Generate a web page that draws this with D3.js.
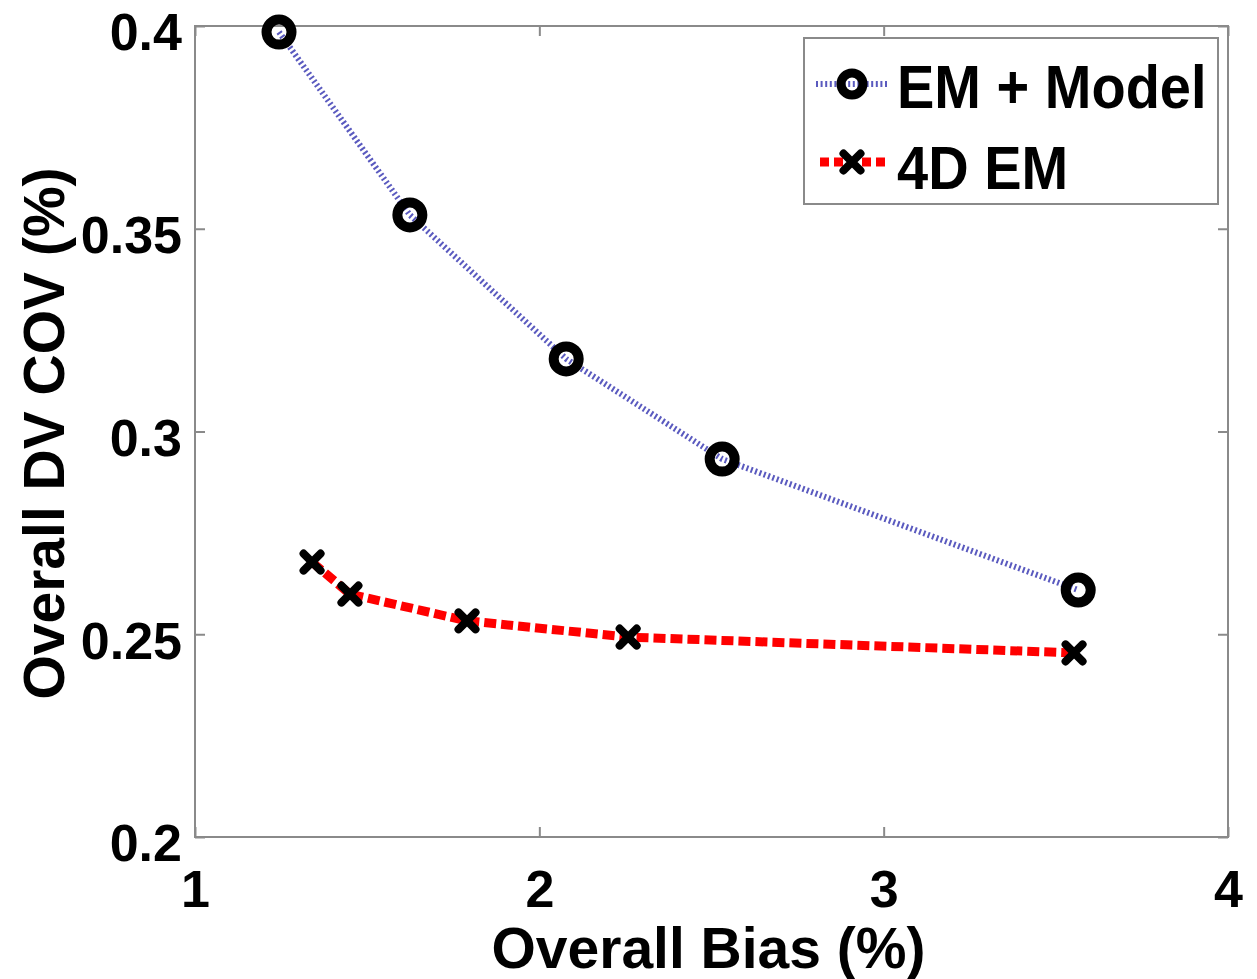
<!DOCTYPE html>
<html>
<head>
<meta charset="utf-8">
<script src="https://cdn.jsdelivr.net/npm/d3@7"></script>
<style>
  html, body { margin: 0; padding: 0; background: #fff; }
  svg { display: block; }
  text { font-family: "Liberation Sans", Arial, sans-serif; font-weight: bold; fill: #000; }
</style>
</head>
<body>
<svg id="chart" width="1257" height="979"></svg>
<script>
// Series: overall bias (%) vs overall DV COV (%)
const emModelBias = [1.244, 1.624, 2.078, 2.531, 3.565];
const emModelCov  = [0.3985, 0.3534, 0.3179, 0.2932, 0.2609];
const em4dBias    = [1.340, 1.450, 1.790, 2.258, 3.553];
const em4dCov     = [0.2678, 0.2599, 0.2533, 0.2493, 0.2454];

const xTicks = [1, 2, 3, 4];
const yTicks = [0.2, 0.25, 0.3, 0.35, 0.4];
const xTickLabels = ["1", "2", "3", "4"];
const yTickLabels = ["0.2", "0.25", "0.3", "0.35", "0.4"];
const seriesNames = ["EM + Model", "4D EM"];
const xTitle = "Overall Bias (%)";
const yTitle = "Overall DV COV (%)";

const svg = d3.select("#chart");
const L = 195, R = 1228, T = 26, B = 837;

const x = d3.scaleLinear().domain([1, 4]).range([L, R]);
const y = d3.scaleLinear().domain([0.2, 0.4]).range([B, T]);

const frameColor = "#8a8a8a";

// Axes with inward ticks on all four sides
const gx = svg.append("g").attr("transform", `translate(0,${B})`)
  .call(d3.axisBottom(x).tickValues(xTicks).tickSize(-10).tickPadding(33)
    .tickFormat((d, i) => xTickLabels[i]));
const gy = svg.append("g").attr("transform", `translate(${L},0)`)
  .call(d3.axisLeft(y).tickValues(yTicks).tickSize(-10).tickPadding(13)
    .tickFormat((d, i) => yTickLabels[i]));
const gxt = svg.append("g").attr("transform", `translate(0,${T})`)
  .call(d3.axisTop(x).tickValues(xTicks).tickSize(-10).tickFormat(""));
const gyr = svg.append("g").attr("transform", `translate(${R},0)`)
  .call(d3.axisRight(y).tickValues(yTicks).tickSize(-10).tickFormat(""));

[gx, gy, gxt, gyr].forEach(g => {
  g.select(".domain").remove();
  g.selectAll(".tick line").attr("stroke", frameColor).attr("stroke-width", 2);
});
gx.selectAll(".tick text").attr("font-size", 52).attr("fill", "#000")
  .attr("font-family", "Liberation Sans, Arial, sans-serif").attr("font-weight", "bold");
gy.selectAll(".tick text").attr("font-size", 52).attr("fill", "#000")
  .attr("font-family", "Liberation Sans, Arial, sans-serif").attr("font-weight", "bold")
  .attr("dy", "0.46em");

// Plot frame
svg.append("rect").attr("x", L).attr("y", T).attr("width", R - L).attr("height", B - T)
  .attr("fill", "none").attr("stroke", frameColor).attr("stroke-width", 2);

// Axis titles
svg.append("text").attr("x", (L + R) / 2 - 3).attr("y", 968)
  .attr("text-anchor", "middle").attr("font-size", 57).text(xTitle);
svg.append("text").attr("transform", `translate(64,${(T + B) / 2 + 2}) rotate(-90)`)
  .attr("text-anchor", "middle").attr("font-size", 57).text(yTitle);

const line = d3.line().x(d => x(d[0])).y(d => y(d[1]));
const emModelPts = emModelBias.map((b, i) => [b, emModelCov[i]]);
const em4dPts = em4dBias.map((b, i) => [b, em4dCov[i]]);

const blueStyle = { stroke: "#5a5abf", width: 6, dash: "2,2.6" };
const redStyle = { stroke: "#ff0000", width: 9, dash: "12,5" };

function drawLine(pts, st) {
  svg.append("path").datum(pts).attr("d", line)
    .attr("fill", "none").attr("stroke", st.stroke)
    .attr("stroke-width", st.width).attr("stroke-dasharray", st.dash);
}
function circleMarker(g, cx, cy, r, w) {
  g.append("circle").attr("cx", cx).attr("cy", cy).attr("r", r)
    .attr("fill", "none").attr("stroke", "#000").attr("stroke-width", w);
}
function crossMarker(g, cx, cy, h, w) {
  g.append("path")
    .attr("d", `M${cx - h},${cy - h}L${cx + h},${cy + h}M${cx - h},${cy + h}L${cx + h},${cy - h}`)
    .attr("stroke", "#000").attr("stroke-width", w).attr("stroke-linecap", "round");
}

drawLine(emModelPts, blueStyle);
drawLine(em4dPts, redStyle);

const markers = svg.append("g");
emModelPts.forEach(p => circleMarker(markers, x(p[0]), y(p[1]), 12.5, 10));
em4dPts.forEach(p => crossMarker(markers, x(p[0]), y(p[1]), 8.5, 8));

// Legend
const lg = svg.append("g");
lg.append("rect").attr("x", 804).attr("y", 38).attr("width", 414).attr("height", 166)
  .attr("fill", "#fff").attr("stroke", frameColor).attr("stroke-width", 2);
lg.append("line").attr("x1", 816).attr("x2", 888).attr("y1", 84).attr("y2", 84)
  .attr("stroke", blueStyle.stroke).attr("stroke-width", blueStyle.width)
  .attr("stroke-dasharray", blueStyle.dash);
circleMarker(lg, 852, 84, 11, 9);
lg.append("line").attr("x1", 820).attr("x2", 888).attr("y1", 162).attr("y2", 162)
  .attr("stroke", redStyle.stroke).attr("stroke-width", redStyle.width)
  .attr("stroke-dasharray", "9,5");
crossMarker(lg, 852, 162, 8.5, 8);
lg.append("text").attr("transform", "translate(897,108) scale(1,1.1)")
  .attr("font-size", 56).text(seriesNames[0]);
lg.append("text").attr("transform", "translate(897,189) scale(1,1.1)")
  .attr("font-size", 56).text(seriesNames[1]);
</script>
</body>
</html>
